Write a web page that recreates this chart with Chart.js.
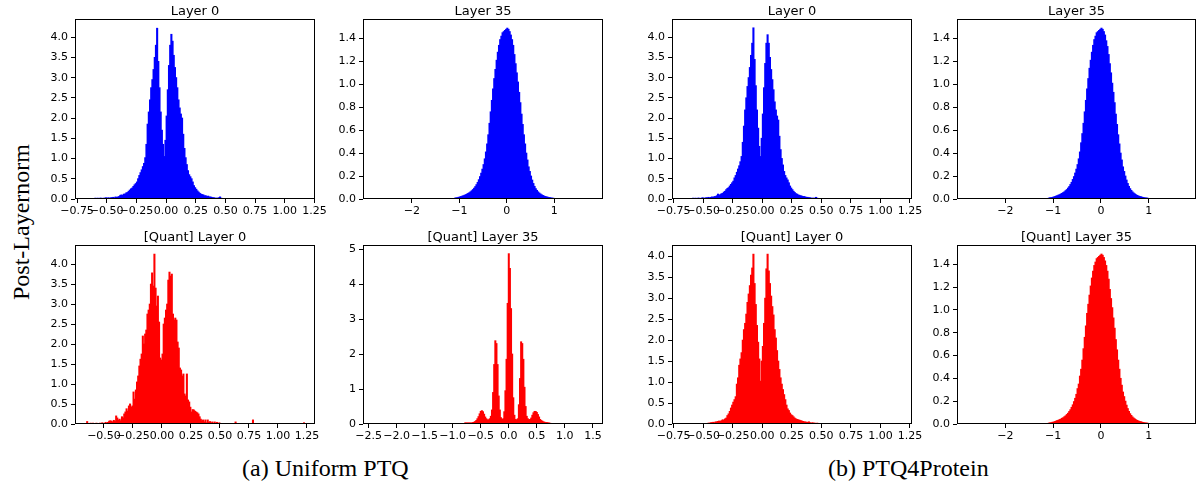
<!DOCTYPE html>
<html><head><meta charset="utf-8">
<script src="https://cdn.jsdelivr.net/npm/chart.js@4.4.1/dist/chart.umd.min.js"></script>
<style>
html,body{margin:0;padding:0;background:#fff;}
body{width:1197px;height:485px;position:relative;overflow:hidden;}
canvas{position:absolute;}
.lbl{position:absolute;font-family:"Liberation Serif","Times New Roman",serif;color:#000;white-space:nowrap;line-height:1;}
</style></head><body>
<div class="lbl" id="ylab" style="font-size:24px;left:26px;top:222px;transform-origin:0 0;transform:translate(-17px,78px) rotate(-90deg);">Post-Layernorm</div>
<div class="lbl" style="font-size:24px;left:242px;top:456px;">(a) Uniform PTQ</div>
<div class="lbl" style="font-size:24px;left:828px;top:456px;">(b) PTQ4Protein</div>
<script>
// ---------------- DATA ----------------
// Layer 0 (float), Uniform PTQ panel: bins of width 0.01 starting at centre -0.595
const a1Start = -0.595, a1Width = 0.01;
const a1Values = [0.02,0.00,0.02,0.00,0.02,0.02,0.00,0.02,0.02,0.03,
 0.02,0.03,0.02,0.03,0.03,0.04,0.03,0.05,0.04,0.05,
 0.06,0.09,0.10,0.09,0.12,0.12,0.15,0.16,0.19,0.22,
 0.25,0.27,0.31,0.35,0.38,0.42,0.50,0.58,0.65,0.72,
 0.80,0.88,1.02,1.35,1.85,2.15,2.45,2.75,2.95,3.20,
 3.50,3.80,4.22,3.40,2.75,2.15,1.70,1.35,1.05,1.45,
 2.05,2.70,3.30,3.80,4.07,3.90,3.55,3.25,3.00,2.75,
 2.45,2.25,2.10,2.00,1.60,1.25,1.02,0.85,0.70,0.60,
 0.55,0.50,0.42,0.33,0.28,0.24,0.20,0.17,0.14,0.12,
 0.11,0.10,0.08,0.08,0.06,0.07,0.05,0.05,0.04,0.03,
 0.03,0.02,0.02,0.02,0.03,0.05,0.02,0.01];

// Layer 35 (float), Uniform PTQ panel: bins of width 0.025 starting at centre -1.0875
const a2Start = -1.0875, a2Width = 0.025;
const a2Values = [0.008,0.010,0.012,0.015,0.018,0.021,0.025,0.029,0.033,0.038,
 0.043,0.049,0.055,0.063,0.072,0.082,0.094,0.108,0.125,0.145,
 0.168,0.195,0.225,0.26,0.30,0.35,0.41,0.48,0.56,0.66,
 0.76,0.86,0.96,1.05,1.13,1.21,1.28,1.34,1.39,1.42,
 1.45,1.46,1.47,1.48,1.49,1.48,1.46,1.43,1.39,1.34,
 1.26,1.18,1.10,1.02,0.93,0.84,0.74,0.65,0.56,0.48,
 0.40,0.34,0.28,0.24,0.20,0.165,0.135,0.11,0.09,0.075,
 0.062,0.052,0.044,0.037,0.031,0.026,0.022,0.019,0.016,0.013,
 0.011,0.009,0.008,0.006,0.005,0.004,0.003,0.002];

// [Quant] Layer 0, Uniform PTQ: bins of width 0.01 starting at centre -0.655
const a3Start = -0.655, a3Width = 0.01;
const a3Values = [0.00,0.06,0.00,0.00,0.02,0.00,0.02,0.00,0.00,0.02,
 0.00,0.00,0.02,0.00,0.03,0.00,0.02,0.04,0.02,0.04,
 0.07,0.08,0.07,0.05,0.09,0.06,0.20,0.15,0.10,0.12,
 0.08,0.18,0.15,0.25,0.30,0.38,0.32,0.45,0.50,0.42,
 0.45,0.80,0.62,0.85,1.05,1.20,1.45,1.62,1.75,2.20,
 2.00,2.25,2.35,2.75,2.85,3.00,3.50,3.78,3.45,4.25,
 3.40,2.95,3.20,2.55,1.65,1.60,1.75,2.50,2.65,2.85,
 3.00,3.60,3.80,3.70,3.75,2.75,2.60,2.65,2.60,2.05,
 1.90,1.40,1.35,1.20,1.25,0.75,0.70,1.25,0.60,0.55,
 0.42,0.30,0.36,0.35,0.32,0.30,0.28,0.25,0.18,0.12,
 0.08,0.10,0.05,0.10,0.03,0.10,0.04,0.06,0.03,0.05,
 0.02,0.05,0.02,0.04,0.00,0.03];
const a3ExtraX = [0.635, 0.785, 1.225];
const a3ExtraY = [0.05, 0.10, 0.03];

// [Quant] Layer 35, Uniform PTQ: bins of width 0.02 starting at centre -0.78
const a4Start = -0.78, a4Width = 0.02;
const a4Values = [0.03,0.03,0.03,0.03,0.03,0.03,0.03,0.04,0.05,0.07,
 0.10,0.15,0.21,0.29,0.36,0.38,0.35,0.28,0.20,0.15,
 0.12,0.12,0.15,0.22,0.40,0.90,1.70,2.38,2.30,1.70,
 0.80,0.40,0.18,0.13,0.15,0.35,0.95,1.85,3.45,4.87,
 4.45,3.30,2.00,0.75,0.25,0.13,0.12,0.15,0.55,1.30,
 2.35,2.30,1.85,1.05,0.50,0.22,0.15,0.12,0.13,0.17,
 0.25,0.32,0.36,0.36,0.33,0.27,0.20,0.13,0.10,0.08,
 0.06,0.05,0.04,0.04,0.03,0.03,0.02];

// Layer 0 (float), PTQ4Protein
const b1Start = -0.595, b1Width = 0.01;
const b1Values = [0.00,0.02,0.00,0.02,0.00,0.02,0.02,0.00,0.02,0.03,
 0.02,0.02,0.03,0.03,0.04,0.03,0.04,0.05,0.04,0.06,
 0.06,0.08,0.12,0.09,0.11,0.13,0.14,0.17,0.19,0.23,
 0.26,0.28,0.32,0.36,0.40,0.44,0.52,0.58,0.66,0.74,
 0.82,0.92,1.05,1.40,1.80,2.20,2.50,2.78,3.00,3.25,
 3.55,3.85,4.23,3.45,2.80,2.20,1.75,1.30,1.05,1.50,
 2.10,2.75,3.35,3.85,4.06,3.85,3.50,3.20,2.95,2.70,
 2.40,2.20,2.05,1.95,1.55,1.22,1.00,0.84,0.68,0.58,
 0.52,0.47,0.40,0.32,0.27,0.23,0.19,0.16,0.13,0.12,
 0.10,0.09,0.08,0.07,0.06,0.06,0.05,0.04,0.04,0.03,
 0.03,0.02,0.02,0.02,0.02,0.04,0.02,0.01];

// Layer 35 (float), PTQ4Protein
const b3Start = -1.0875, b3Width = 0.025;
const b3Values = [0.008,0.010,0.012,0.014,0.018,0.021,0.025,0.029,0.034,0.038,
 0.044,0.049,0.056,0.063,0.073,0.082,0.095,0.108,0.126,0.145,
 0.170,0.195,0.226,0.26,0.30,0.35,0.41,0.49,0.57,0.66,
 0.76,0.86,0.96,1.05,1.14,1.21,1.28,1.34,1.39,1.42,
 1.45,1.46,1.47,1.48,1.49,1.48,1.46,1.43,1.38,1.33,
 1.26,1.18,1.10,1.01,0.93,0.84,0.74,0.65,0.56,0.48,
 0.40,0.34,0.28,0.24,0.20,0.165,0.135,0.11,0.09,0.075,
 0.062,0.052,0.044,0.037,0.031,0.026,0.022,0.019,0.016,0.013,
 0.011,0.009,0.008,0.006,0.005,0.004,0.003,0.002];

// [Quant] Layer 0, PTQ4Protein
const b2Start = -0.455, b2Width = 0.01;
const b2Values = [0.02,0.02,0.03,0.03,0.04,0.03,0.05,0.05,0.06,0.07,
 0.06,0.08,0.10,0.09,0.12,0.14,0.20,0.24,0.30,0.38,
 0.45,0.52,0.58,0.65,0.95,1.10,1.40,1.55,1.70,2.00,
 2.25,2.40,2.62,2.90,3.10,3.30,3.55,3.72,4.05,3.35,
 2.85,2.35,1.95,1.55,1.02,1.50,1.85,2.40,3.00,3.70,
 4.05,3.65,3.35,3.05,2.80,2.60,2.25,2.05,1.75,1.50,
 1.30,1.10,0.95,0.82,0.70,0.58,0.45,0.36,0.32,0.26,
 0.22,0.20,0.17,0.14,0.12,0.11,0.10,0.09,0.08,0.07,
 0.06,0.05,0.05,0.04,0.04,0.05,0.03,0.02,0.03,0.02,
 0.02,0.01,0.02,0.01];

// [Quant] Layer 35, PTQ4Protein
const b4Start = -1.0875, b4Width = 0.025;
const b4Values = [0.008,0.009,0.012,0.015,0.017,0.021,0.025,0.030,0.033,0.039,
 0.043,0.050,0.055,0.064,0.072,0.083,0.094,0.109,0.125,0.146,
 0.168,0.196,0.225,0.26,0.31,0.35,0.42,0.48,0.56,0.66,
 0.76,0.86,0.97,1.05,1.13,1.21,1.28,1.34,1.39,1.42,
 1.45,1.46,1.47,1.48,1.49,1.48,1.46,1.43,1.39,1.34,
 1.27,1.18,1.10,1.02,0.93,0.84,0.74,0.65,0.56,0.48,
 0.40,0.34,0.28,0.24,0.20,0.165,0.135,0.11,0.09,0.075,
 0.062,0.052,0.044,0.037,0.031,0.026,0.022,0.019,0.016,0.013,
 0.011,0.009,0.008,0.006,0.005,0.004,0.003,0.002];

// Titles
const titles = ["Layer 0","Layer 35","[Quant] Layer 0","[Quant] Layer 35",
                "Layer 0","Layer 35","[Quant] Layer 0","[Quant] Layer 35"];

// Tick values & labels
const xTicksL0 = [-0.75,-0.5,-0.25,0,0.25,0.5,0.75,1.0,1.25];
const xLabelsL0 = ["\u22120.75","\u22120.50","\u22120.25","0.00","0.25","0.50","0.75","1.00","1.25"];
const xTicksQ0 = [-0.5,-0.25,0,0.25,0.5,0.75,1.0,1.25];
const xLabelsQ0 = ["\u22120.50","\u22120.25","0.00","0.25","0.50","0.75","1.00","1.25"];
const xTicksL35 = [-2,-1,0,1];
const xLabelsL35 = ["\u22122","\u22121","0","1"];
const xTicksQ35 = [-2.5,-2.0,-1.5,-1.0,-0.5,0,0.5,1.0,1.5];
const xLabelsQ35 = ["\u22122.5","\u22122.0","\u22121.5","\u22121.0","\u22120.5","0.0","0.5","1.0","1.5"];
const yTicksL0 = [0,0.5,1.0,1.5,2.0,2.5,3.0,3.5,4.0];
const yLabelsL0 = ["0.0","0.5","1.0","1.5","2.0","2.5","3.0","3.5","4.0"];
const yTicksL35 = [0,0.2,0.4,0.6,0.8,1.0,1.2,1.4];
const yLabelsL35 = ["0.0","0.2","0.4","0.6","0.8","1.0","1.2","1.4"];
const yTicksQ35 = [0,1,2,3,4,5];
const yLabelsQ35 = ["0","1","2","3","4","5"];

// ---------------- RENDER ----------------
Chart.defaults.font.family = '"DejaVu Sans"';
Chart.defaults.font.size = 11;
Chart.defaults.color = '#000';
const BLUE = '#0000ff', RED = '#ff0000';
const YW = 50, TP = 22, RP = 24, XH = 26;
const cols = [{x:75,w:240},{x:363,w:240},{x:672,w:240},{x:957,w:239}];
const rows = [{y:19,h:180},{y:245,h:179}];

function toPoints(start, width, vals, ex, ey) {
  const pts = vals.map((v,i) => ({x: start + i*width, y: v}));
  if (ex) ex.forEach((x,i) => pts.push({x: x, y: ey[i]}));
  return pts;
}

const framePlugin = {
  id: 'frame',
  afterDatasetsDraw(chart) {
    const a = chart.chartArea, c = chart.ctx;
    c.save(); c.strokeStyle = '#000'; c.lineWidth = 1;
    c.strokeRect(Math.round(a.left)+0.5, Math.round(a.top)+0.5, Math.round(a.right-a.left)-1, Math.round(a.bottom-a.top)-1);
    c.restore();
  },
  afterDraw(chart) {
    const a = chart.chartArea, c = chart.ctx;
    c.save(); c.fillStyle = '#000';
    c.font = '13px "DejaVu Sans"'; c.textAlign = 'center'; c.textBaseline = 'alphabetic';
    c.fillText(chart.options.plugins.frame.title, (a.left+a.right)/2, a.top - 4);
    c.restore();
  }
};

function makePanel(col, row, spec) {
  const box = {x: cols[col].x, y: rows[row].y, w: cols[col].w, h: rows[row].h};
  const cv = document.createElement('canvas');
  const W = YW + box.w + RP, H = TP + box.h + XH;
  cv.width = W; cv.height = H;
  cv.style.left = (box.x - YW) + 'px'; cv.style.top = (box.y - TP) + 'px';
  cv.style.width = W + 'px'; cv.style.height = H + 'px';
  document.body.appendChild(cv);
  const tickFont = {family: '"DejaVu Sans"', size: 11};
  new Chart(cv, {
    type: 'bar',
    data: {datasets: [{data: spec.points, backgroundColor: spec.color, borderWidth: 0,
      inflateAmount: 0.45, barPercentage: 1, categoryPercentage: 1}]},
    options: {
      animation: false, responsive: false, maintainAspectRatio: false,
      layout: {padding: {top: TP, right: RP, left: 0, bottom: 0}},
      plugins: {legend: {display: false}, tooltip: {enabled: false}, title: {display: false},
        frame: {title: spec.title}},
      scales: {
        x: {type: 'linear', min: spec.xmin, max: spec.xmax, offset: false,
          grid: {drawOnChartArea: false, drawTicks: true, tickLength: 4, color: '#000', tickColor: '#000', offset: false},
          border: {display: false},
          ticks: {autoSkip: false, maxRotation: 0, minRotation: 0, padding: 2, color: '#000', font: tickFont,
            callback: (v, i) => spec.xl[i]},
          afterBuildTicks: s => { s.ticks = spec.xt.map(v => ({value: v})); },
          afterFit: s => { s.height = XH; }
        },
        y: {type: 'linear', min: 0, max: spec.ymax,
          grid: {drawOnChartArea: false, drawTicks: true, tickLength: 4, color: '#000', tickColor: '#000'},
          border: {display: false},
          ticks: {autoSkip: false, padding: 3, color: '#000', font: tickFont,
            callback: (v, i) => spec.yl[i]},
          afterBuildTicks: s => { s.ticks = spec.yt.map(v => ({value: v})); },
          afterFit: s => { s.width = YW; }
        }
      }
    },
    plugins: [framePlugin]
  });
}

makePanel(0, 0, {title: titles[0], color: BLUE, points: toPoints(a1Start, a1Width, a1Values),
  xmin: -0.767, xmax: 1.255, ymax: 4.45, xt: xTicksL0, xl: xLabelsL0, yt: yTicksL0, yl: yLabelsL0});
makePanel(1, 0, {title: titles[1], color: BLUE, points: toPoints(a2Start, a2Width, a2Values),
  xmin: -3.03, xmax: 2.03, ymax: 1.57, xt: xTicksL35, xl: xLabelsL35, yt: yTicksL35, yl: yLabelsL35});
makePanel(0, 1, {title: titles[2], color: RED, points: toPoints(a3Start, a3Width, a3Values, a3ExtraX, a3ExtraY),
  xmin: -0.75, xmax: 1.32, ymax: 4.48, xt: xTicksQ0, xl: xLabelsQ0, yt: yTicksL0, yl: yLabelsL0});
makePanel(1, 1, {title: titles[3], color: RED, points: toPoints(a4Start, a4Width, a4Values),
  xmin: -2.60, xmax: 1.68, ymax: 5.12, xt: xTicksQ35, xl: xLabelsQ35, yt: yTicksQ35, yl: yLabelsQ35});
makePanel(2, 0, {title: titles[4], color: BLUE, points: toPoints(b1Start, b1Width, b1Values),
  xmin: -0.764, xmax: 1.267, ymax: 4.45, xt: xTicksL0, xl: xLabelsL0, yt: yTicksL0, yl: yLabelsL0});
makePanel(3, 0, {title: titles[5], color: BLUE, points: toPoints(b3Start, b3Width, b3Values),
  xmin: -3.01, xmax: 1.99, ymax: 1.57, xt: xTicksL35, xl: xLabelsL35, yt: yTicksL35, yl: yLabelsL35});
makePanel(2, 1, {title: titles[6], color: RED, points: toPoints(b2Start, b2Width, b2Values),
  xmin: -0.764, xmax: 1.267, ymax: 4.27, xt: xTicksL0, xl: xLabelsL0, yt: yTicksL0, yl: yLabelsL0});
makePanel(3, 1, {title: titles[7], color: RED, points: toPoints(b4Start, b4Width, b4Values),
  xmin: -3.01, xmax: 1.99, ymax: 1.57, xt: xTicksL35, xl: xLabelsL35, yt: yTicksL35, yl: yLabelsL35});
</script>
</body></html>
